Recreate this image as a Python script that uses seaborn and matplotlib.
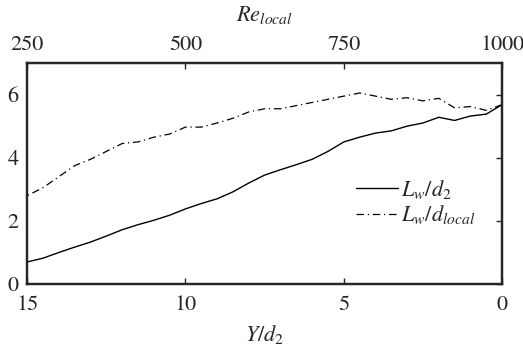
import matplotlib
matplotlib.use("Agg")
import matplotlib.pyplot as plt
import seaborn as sns
import pandas as pd

y_d2 = [15, 14.5, 14, 13.5, 13, 12.5, 12, 11.5, 11, 10.5, 10, 9.5, 9, 8.5, 8,
        7.5, 7, 6.5, 6, 5.5, 5, 4.5, 4, 3.5, 3, 2.5, 2, 1.5, 1, 0.5, 0]
lw_d2 = [0.70, 0.82, 1.00, 1.17, 1.33, 1.52, 1.72, 1.88, 2.02, 2.18, 2.38, 2.55,
         2.70, 2.92, 3.20, 3.45, 3.62, 3.78, 3.95, 4.20, 4.50, 4.65, 4.78, 4.85,
         5.00, 5.10, 5.28, 5.18, 5.32, 5.38, 5.68]
lw_dlocal = [2.80, 3.05, 3.40, 3.75, 3.95, 4.20, 4.45, 4.50, 4.65, 4.75, 4.97,
             4.97, 5.10, 5.25, 5.45, 5.55, 5.55, 5.65, 5.75, 5.85, 5.95, 6.05,
             5.95, 5.85, 5.90, 5.80, 5.88, 5.58, 5.62, 5.50, 5.68]
re_ticks = [250, 500, 750, 1000]
x_ticks = [15, 10, 5, 0]
y_ticks = [0, 2, 4, 6]

sns.set_style("white")
plt.rcParams['font.family'] = ['STIXGeneral', 'Liberation Serif', 'DejaVu Serif']
plt.rcParams['mathtext.fontset'] = 'stix'

df = pd.DataFrame({"Y": y_d2, "a": lw_d2, "b": lw_dlocal})

fig = plt.figure(figsize=(5.23, 3.46), dpi=100)
ax = fig.add_axes([0.052, 0.179, 0.908, 0.639])

sns.lineplot(data=df, x="Y", y="a", ax=ax, color="black", lw=1.0,
             label=r"$L_w/d_2$")
sns.lineplot(data=df, x="Y", y="b", ax=ax, color="black", lw=0.9,
             dashes=False, label=r"$L_w/d_{local}$")
ax.lines[1].set_linestyle((0, (6, 3, 1, 3)))

ax.set_xlim(15, 0)
ax.set_ylim(0, 7)
ax.set_xticks(x_ticks)
ax.set_yticks(y_ticks)
ax.set_xlabel(r"$Y/d_2$", fontsize=16, labelpad=6)
ax.set_ylabel("")
ax.tick_params(direction="in", length=4, width=1, labelsize=16, right=True)
ax.tick_params(axis="x", pad=8)
ax.tick_params(axis="y", pad=6)
for s in ax.spines.values():
    s.set_linewidth(1.6)
    s.set_color("black")

ax2 = ax.twiny()
ax2.set_xlim(250, 1000)
ax2.set_xticks(re_ticks)
ax2.tick_params(direction="in", length=4, width=1, labelsize=16, pad=6)
ax2.set_xlabel(r"$Re_{local}$", fontsize=16, labelpad=10)
for s in ax2.spines.values():
    s.set_linewidth(1.6)

leg = ax.legend(loc="center right", bbox_to_anchor=(0.985, 0.37), frameon=False,
                fontsize=16, handlelength=1.9, handletextpad=0.1,
                labelspacing=0.1)

fig.savefig("out.png", dpi=100)
